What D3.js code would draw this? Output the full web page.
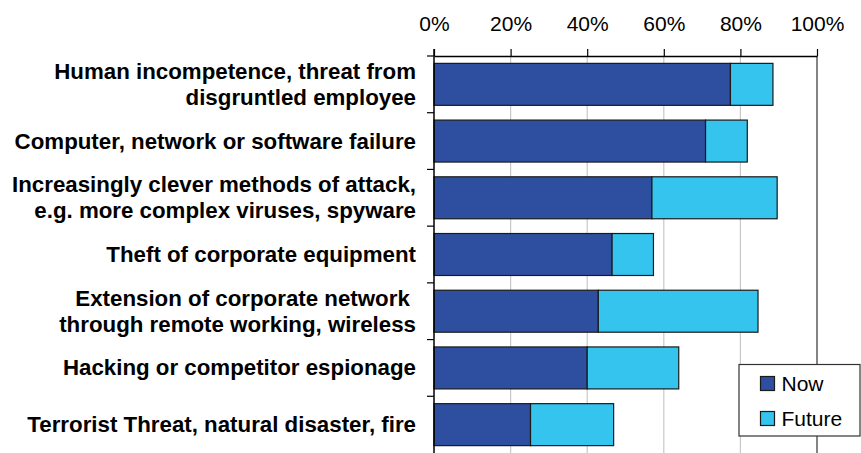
<!DOCTYPE html>
<html>
<head>
<meta charset="utf-8">
<script src="https://cdn.jsdelivr.net/npm/d3@7"></script>
<style>
  html, body { margin: 0; padding: 0; background: #fff; }
  svg { display: block; font-family: "Liberation Sans", Arial, sans-serif; }
</style>
</head>
<body>
<svg id="chart" width="861" height="453"></svg>
<script>
// Threat categories (each entry is a list of label lines)
const categories = [
  ["Human incompetence, threat from", "disgruntled employee"],
  ["Computer, network or software failure"],
  ["Increasingly clever methods of attack,", "e.g. more complex viruses, spyware"],
  ["Theft of corporate equipment"],
  ["Extension of corporate network ", "through remote working, wireless"],
  ["Hacking or competitor espionage"],
  ["Terrorist Threat, natural disaster, fire"]
];
// Share of respondents (%) seeing the threat now, and the additional share for the future
const nowValues    = [77.4, 70.9, 56.9, 46.5, 42.9, 40.0, 25.2];
const futureValues = [11.1, 10.9, 32.7, 10.8, 41.7, 23.9, 21.7];
const seriesNames  = ["Now", "Future"];
const xTicks       = [0, 20, 40, 60, 80, 100];

const colors = { Now: "#2E4FA0", Future: "#34C4EE" };

const svg = d3.select("#chart");
const plotLeft = 434, plotRight = 817, plotTop = 56, plotBottom = 453;

const rows = categories.map((c, i) => ({ key: i, label: c, Now: nowValues[i], Future: futureValues[i] }));
const stacked = d3.stack().keys(seriesNames)(rows);

const x = d3.scaleLinear().domain([0, 100]).range([plotLeft, plotRight]);
const yBand = d3.scaleBand().domain(d3.range(categories.length)).range([plotTop, plotBottom]);
const y = d3.scaleBand().domain(d3.range(categories.length)).range([plotTop, plotBottom])
  .paddingInner(0.26).paddingOuter(0.13);

// vertical gridlines
svg.append("g").selectAll("line")
  .data(xTicks.filter(t => t > 0 && t < 100))
  .join("line")
  .attr("x1", d => x(d)).attr("x2", d => x(d))
  .attr("y1", plotTop).attr("y2", plotBottom)
  .attr("stroke", "#c8c8c8").attr("stroke-width", 1.2);

// right border at 100%
svg.append("line")
  .attr("x1", x(100)).attr("x2", x(100))
  .attr("y1", plotTop).attr("y2", plotBottom)
  .attr("stroke", "#333").attr("stroke-width", 1.2);

// stacked bars
svg.append("g").selectAll("g")
  .data(stacked)
  .join("g")
  .attr("fill", d => colors[d.key])
  .selectAll("rect")
  .data(d => d)
  .join("rect")
  .attr("x", d => x(d[0]))
  .attr("y", (d, i) => y(i))
  .attr("width", d => x(d[1]) - x(d[0]))
  .attr("height", y.bandwidth())
  .attr("stroke", "#1a1a1a").attr("stroke-width", 1.2);

// top axis
const xAxis = d3.axisTop(x).tickValues(xTicks).tickFormat(d => d + "%")
  .tickSizeInner(7).tickSizeOuter(0).tickPadding(18);
const gx = svg.append("g").attr("transform", `translate(0,${plotTop})`).call(xAxis);
gx.select(".domain").attr("stroke", "#000").attr("stroke-width", 1.5);
gx.selectAll(".tick line").attr("stroke", "#000").attr("stroke-width", 1.2);
gx.selectAll(".tick text").attr("fill", "#000").attr("font-size", 21)
  .attr("font-family", "Liberation Sans, Arial, sans-serif");

// left axis line with ticks at category boundaries
svg.append("line")
  .attr("x1", plotLeft).attr("x2", plotLeft).attr("y1", plotTop - 7).attr("y2", plotBottom)
  .attr("stroke", "#000").attr("stroke-width", 1.5);
svg.append("g").selectAll("line")
  .data(d3.range(categories.length))
  .join("line")
  .attr("x1", plotLeft - 7).attr("x2", plotLeft)
  .attr("y1", d => yBand(d)).attr("y2", d => yBand(d))
  .attr("stroke", "#000").attr("stroke-width", 1.2);

// category labels
const lineH = 26;
const lab = svg.append("g").selectAll("text")
  .data(rows)
  .join("text")
  .attr("text-anchor", "end")
  .attr("font-weight", "bold")
  .attr("font-size", 22.3)
  .attr("fill", "#000")
  .attr("x", 416)
  .attr("y", d => y(d.key) + y.bandwidth() / 2 - (d.label.length - 1) * lineH / 2 + 7.5);
lab.selectAll("tspan")
  .data(d => d.label)
  .join("tspan")
  .attr("x", 416)
  .attr("dy", (d, i) => i === 0 ? 0 : lineH)
  .style("white-space", "pre")
  .text(d => d);

// legend
const lg = svg.append("g");
lg.append("rect")
  .attr("x", 739).attr("y", 364.5).attr("width", 121).attr("height", 71.5)
  .attr("fill", "#fff").attr("stroke", "#333").attr("stroke-width", 1.2);
const items = lg.selectAll("g.item")
  .data(seriesNames)
  .join("g").attr("class", "item")
  .attr("transform", (d, i) => `translate(760.5,${376.5 + i * 35})`);
items.append("rect")
  .attr("width", 14).attr("height", 14)
  .attr("fill", d => colors[d]).attr("stroke", "#1a1a1a").attr("stroke-width", 1.2);
items.append("text")
  .attr("x", 21).attr("y", 14.5)
  .attr("font-size", 21).attr("fill", "#000")
  .text(d => d);
</script>
</body>
</html>
